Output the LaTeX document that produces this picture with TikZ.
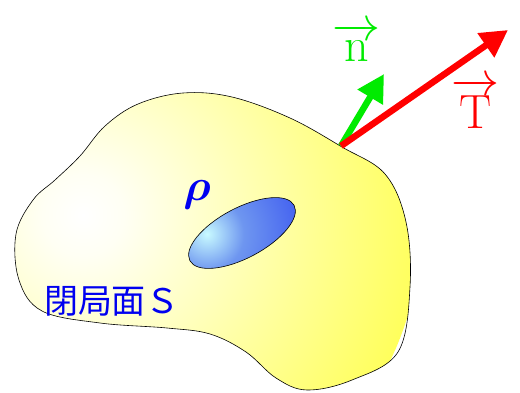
\documentclass[tikz,border=0pt]{standalone}
\usepackage{amsmath,amsfonts}
\usepackage{graphicx}
\usepackage{fontspec}
\newfontfamily\cjkfont{Noto Sans CJK JP}
\usepackage{tikz}
\usetikzlibrary{arrows.meta}

\definecolor{surfyellow}{RGB}{255,255,30}
\definecolor{rholight}{RGB}{200,250,255}
\definecolor{rhomid}{RGB}{110,150,240}
\definecolor{rhoblue}{RGB}{50,75,240}
\definecolor{ngreen}{RGB}{0,235,0}
\definecolor{tred}{RGB}{255,0,0}
\definecolor{lblue}{RGB}{0,0,240}
\pgfdeclareradialshading{surfshade}{\pgfpointorigin}{color(0bp)=(white); color(3bp)=(white!95!surfyellow); color(34bp)=(surfyellow); color(50bp)=(surfyellow)}
\pgfdeclareradialshading{rhoshade}{\pgfpointorigin}{color(0bp)=(rholight); color(8bp)=(rhomid); color(26bp)=(rhoblue); color(50bp)=(rhoblue)}

\begin{document}
\begin{tikzpicture}[
  x=1pt, y=1pt,
  outline/.style={draw=black, line width=0.6pt},
  vec/.style={line width=6.5pt, -{Triangle[length=27pt, width=28pt]}},
  lbl/.style={inner sep=0pt, anchor=base, font=\Huge},
]
\useasboundingbox (0,0) rectangle (520,392);

% ---- closed surface
\def\surfpath{plot[smooth cycle, tension=0.6] coordinates {
  (342,245) (385,218) (406,170) (410,105) (398,40) (352,12) (307,2)
  (276,14) (246,40) (210,58) (167,64) (100,69) (42,81) (19,112)
  (16,158) (33,192) (55,212) (80,236) (105,266) (138,288) (183,299)
  (232,295) (290,274)}}
\begin{scope}
  \clip \surfpath;
  \shade[shading=surfshade] (83,177) circle (340);
\end{scope}
\draw[outline] \surfpath;

% ---- charge region
\begin{scope}
  \clip (242,159) ellipse [x radius=59, y radius=25, rotate=28];
  \shade[shading=rhoshade] (207,158) circle (115);
\end{scope}
\draw[outline] (242,159) ellipse [x radius=59, y radius=25, rotate=28];

% ---- labels
\node[lbl, text=lblue] (rho) at (197,192) {\scalebox{1.8}{$\boldsymbol{\rho}$}};
\node[lbl, text=lblue, font=\fontsize{34}{34}\selectfont\cjkfont] (S) at (112,79) {閉局面Ｓ};

% ---- vectors
\coordinate (P) at (341,246);
\coordinate (ntip) at (384,318);
\coordinate (Ttip) at (508,362);
\draw[vec, ngreen] (P) -- (ntip);
\draw[vec, tred] (P) -- (Ttip);
\node[lbl, text=ngreen] (n) at (357,330) {\scalebox{1.93}{$\overrightarrow{\mathrm{n}}$}};
\node[lbl, text=tred] (T) at (476,264) {\scalebox{1.93}{$\overrightarrow{\mathrm{T}}$}};
\end{tikzpicture}
\end{document}
